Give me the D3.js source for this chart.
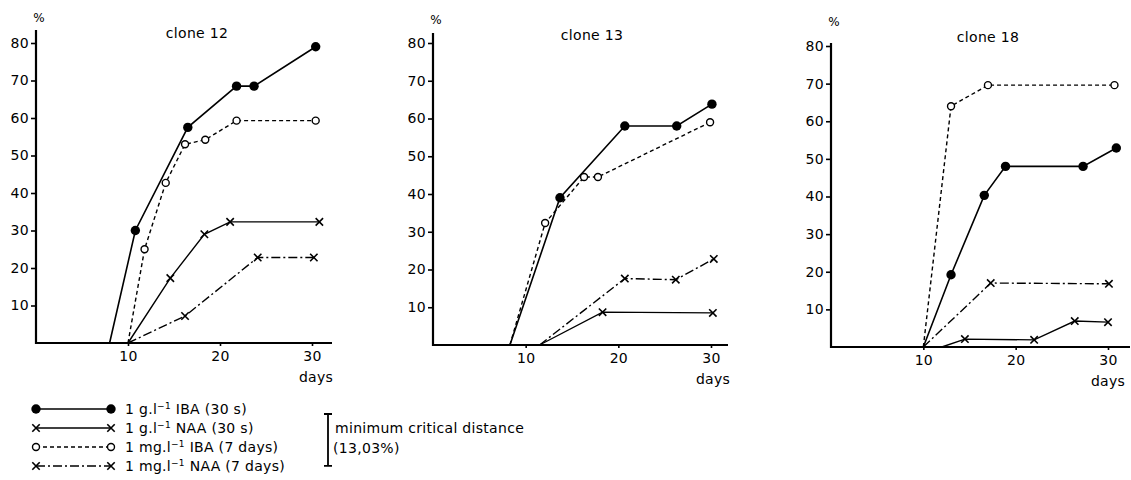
<!DOCTYPE html>
<html>
<head>
<meta charset="utf-8">
<script src="https://cdn.jsdelivr.net/npm/d3@7"></script>
<style>
  body { margin: 0; background: #fff; }
  text { font-family: "DejaVu Sans", sans-serif; fill: #000; letter-spacing: 0.3px; }
</style>
</head>
<body>
<div id="chart"></div>
<script>
// rooting percentage over time, three clones, four treatments
var cloneNames = ["clone 12", "clone 13", "clone 18"];
var treatments = ["IBA_30s", "NAA_30s", "IBA_7d", "NAA_7d"];
var yTicks = [10, 20, 30, 40, 50, 60, 70, 80];
var xTicks = [10, 20, 30];

// [day, %] pairs, first point is where the curve leaves zero
var clone12_IBA_30s = [[8, 0], [10.8, 30], [16.5, 57.5], [21.8, 68.5], [23.7, 68.5], [30.4, 79]];
var clone12_NAA_30s = [[10, 0], [14.6, 17.3], [18.3, 29], [21.1, 32.3], [30.8, 32.3]];
var clone12_IBA_7d  = [[10, 0], [11.8, 25], [14.1, 42.7], [16.2, 53], [18.4, 54.2], [21.8, 59.3], [30.4, 59.3]];
var clone12_NAA_7d  = [[10, 0], [16.2, 7.2], [24.1, 22.8], [30.2, 22.8]];

var clone13_IBA_30s = [[8.3, 0], [13.7, 39], [20.7, 58], [26.3, 58], [30.1, 63.8]];
var clone13_NAA_30s = [[11.5, 0], [18.3, 8.7], [30.2, 8.5]];
var clone13_IBA_7d  = [[8.3, 0], [12.1, 32.3], [16.3, 44.5], [17.8, 44.5], [29.9, 59]];
var clone13_NAA_7d  = [[11.5, 0], [20.7, 17.6], [26.2, 17.3], [30.3, 22.8]];

var clone18_IBA_30s = [[10, 0], [13, 19.2], [16.6, 40.3], [18.9, 48], [27.3, 48], [30.9, 52.9]];
var clone18_NAA_30s = [[12, 0], [14.5, 2.1], [22, 1.9], [26.4, 6.9], [30, 6.6]];
var clone18_IBA_7d  = [[10, 0], [13, 64], [17, 69.6], [30.7, 69.6]];
var clone18_NAA_7d  = [[10, 0], [17.3, 17], [30.1, 16.8]];

var legendLabels = [
  ["1 g.l", " IBA (30 s)"],
  ["1 g.l", " NAA (30 s)"],
  ["1 mg.l", " IBA (7 days)"],
  ["1 mg.l", " NAA (7 days)"]
];
var criticalDistance = 13.03;

var cloneData = [
  [clone12_IBA_30s, clone12_NAA_30s, clone12_IBA_7d, clone12_NAA_7d],
  [clone13_IBA_30s, clone13_NAA_30s, clone13_IBA_7d, clone13_NAA_7d],
  [clone18_IBA_30s, clone18_NAA_30s, clone18_IBA_7d, clone18_NAA_7d]
];

// panel geometry (pixels)
var panels = [
  { left: 36,  x30: 312,  xEnd: 332,  base: 343, top80: 43, axisTop: 30, titleX: 197, daysDx: 4 },
  { left: 433, x30: 711,  xEnd: 728,  base: 345, top80: 43, axisTop: 33, titleX: 592, daysDx: 2 },
  { left: 831, x30: 1108, xEnd: 1130, base: 347, top80: 46, axisTop: 43, titleX: 988, daysDx: 0 }
];

var styles = {
  IBA_30s: { dash: null,      width: 1.6, marker: "dot" },
  NAA_30s: { dash: null,      width: 1.4, marker: "cross" },
  IBA_7d:  { dash: "4,3",     width: 1.4, marker: "ring" },
  NAA_7d:  { dash: "9,3,2,3", width: 1.4, marker: "cross" }
};

var svg = d3.select("#chart").append("svg")
  .attr("width", 1131)
  .attr("height", 480);

function drawMarker(g, type, x, y) {
  if (type == "dot") {
    g.append("circle").attr("cx", x).attr("cy", y).attr("r", 4.7).attr("fill", "#000");
  } else if (type == "ring") {
    g.append("circle").attr("cx", x).attr("cy", y).attr("r", 3.5)
      .attr("fill", "#fff").attr("stroke", "#000").attr("stroke-width", 1.4);
  } else {
    var s = 3.7;
    g.append("path")
      .attr("d", `M${x - s},${y - s}L${x + s},${y + s}M${x - s},${y + s}L${x + s},${y - s}`)
      .attr("stroke", "#000").attr("stroke-width", 1.6).attr("fill", "none");
  }
}

panels.forEach(function(p, i) {
  var x = d3.scaleLinear().domain([0, 30]).range([p.left, p.x30]);
  var y = d3.scaleLinear().domain([0, 80]).range([p.base, p.top80]);
  var g = svg.append("g");

  // y axis
  var yAxis = d3.axisLeft(y).tickValues(yTicks).tickSize(5).tickPadding(2);
  var ya = g.append("g").attr("transform", `translate(${p.left},0)`).call(yAxis);
  ya.select(".domain").remove();
  ya.selectAll("line").attr("stroke", "#000").attr("stroke-width", 1.6);
  ya.selectAll("text").attr("font-size", 14).attr("font-family", "DejaVu Sans");
  g.append("line")
    .attr("x1", p.left).attr("x2", p.left)
    .attr("y1", p.axisTop).attr("y2", p.base + 1)
    .attr("stroke", "#000").attr("stroke-width", 2.2);

  // x axis
  var xAxis = d3.axisBottom(x).tickValues(xTicks).tickSize(3).tickPadding(5);
  var xa = g.append("g").attr("transform", `translate(0,${p.base})`).call(xAxis);
  xa.select(".domain").remove();
  xa.selectAll("line").attr("stroke", "#000").attr("stroke-width", 1.6);
  xa.selectAll("text").attr("font-size", 14).attr("font-family", "DejaVu Sans");
  g.append("line")
    .attr("x1", p.left - 1).attr("x2", p.xEnd)
    .attr("y1", p.base).attr("y2", p.base)
    .attr("stroke", "#000").attr("stroke-width", 2.2);

  g.append("text")
    .attr("x", x(30) + p.daysDx).attr("y", p.base + 39)
    .attr("text-anchor", "middle").attr("font-size", 14)
    .text("days");
  g.append("text")
    .attr("x", p.left + 3).attr("y", p.base - 321)
    .attr("text-anchor", "middle").attr("font-size", 12)
    .text("%");
  g.append("text")
    .attr("x", p.titleX).attr("y", p.base - 305)
    .attr("text-anchor", "middle").attr("font-size", 14)
    .text(cloneNames[i]);

  var line = d3.line().x(d => x(d[0])).y(d => y(d[1]));

  cloneData[i].forEach(function(series, k) {
    var st = styles[treatments[k]];
    g.append("path")
      .datum(series)
      .attr("d", line)
      .attr("fill", "none")
      .attr("stroke", "#000")
      .attr("stroke-width", st.width)
      .attr("stroke-dasharray", st.dash);
  });
  cloneData[i].forEach(function(series, k) {
    var st = styles[treatments[k]];
    series.filter(d => d[1] > 0).forEach(function(d) {
      drawMarker(g, st.marker, x(d[0]), y(d[1]));
    });
  });
});

// legend
var legend = svg.append("g");
var rowY = d3.scalePoint().domain(treatments).range([409, 466]);
treatments.forEach(function(t, k) {
  var st = styles[t];
  var yy = rowY(t);
  legend.append("line")
    .attr("x1", 36).attr("x2", 111).attr("y1", yy).attr("y2", yy)
    .attr("stroke", "#000").attr("stroke-width", st.width)
    .attr("stroke-dasharray", st.dash);
  drawMarker(legend, st.marker, 36, yy);
  drawMarker(legend, st.marker, 111, yy);
  var tx = legend.append("text")
    .attr("x", 125).attr("y", yy + 5)
    .attr("font-size", 14);
  tx.append("tspan").text(legendLabels[k][0]);
  tx.append("tspan").attr("dy", -5).attr("font-size", 9).text("−1");
  tx.append("tspan").attr("dy", 5).text(legendLabels[k][1]);
});

// minimum critical distance bar, drawn on the chart's % scale
var barScale = d3.scaleLinear().domain([0, 80]).range([0, 300]);
var barTop = 414, barBottom = barTop + barScale(criticalDistance) + 3;
legend.append("path")
  .attr("d", `M324,${barTop}H332M328,${barTop}V${barBottom}M324,${barBottom}H332`)
  .attr("stroke", "#000").attr("stroke-width", 1.8).attr("fill", "none");
legend.append("text").attr("x", 335).attr("y", 433).attr("font-size", 14)
  .text("minimum critical distance");
legend.append("text").attr("x", 333).attr("y", 453).attr("font-size", 14)
  .text("(13,03%)");
</script>
</body>
</html>
